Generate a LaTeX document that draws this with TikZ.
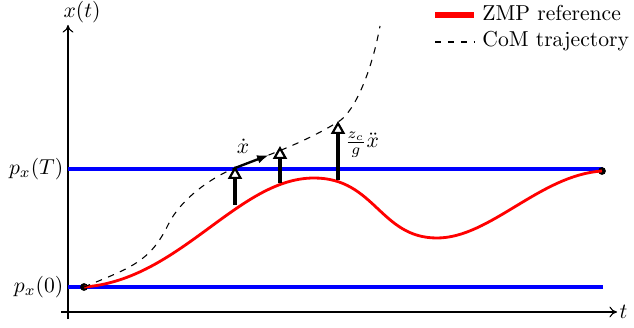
\documentclass[tikz,border=0pt]{standalone}
\usetikzlibrary{arrows.meta}
\begin{document}
\begin{tikzpicture}[x=0.01627cm,y=-0.01627cm,
  axis/.style={line width=0.5pt,-{To[length=3.5pt,width=5pt]}},
  refline/.style={blue,line width=1.4pt},
  zmp/.style={red,line width=1.3pt},
  com/.style={dashed,line width=0.5pt},
  acc/.style={line width=2.2pt,-{Triangle[open,fill=white,line width=1pt,length=6pt,width=6.5pt]}},
  vel/.style={line width=1.1pt,-{Latex[length=5.5pt,width=4pt]}},
  dotnode/.style={circle,fill=black,inner sep=0pt,minimum size=3.6pt}]
\useasboundingbox (0,0) rectangle (634,328);
% axes
\coordinate (ybot) at (68,319);
\coordinate (ytop) at (68,25);
\coordinate (xl) at (61,312);
\coordinate (xr) at (617,312);
\draw[axis] (ybot) -- (ytop);
\draw[axis] (xl) -- (xr);
\node (xt) at (82,12) {$x(t)$};
\node[anchor=west,inner sep=1pt] (tl) at (617,312) {$t$};
% reference levels
\coordinate (b0l) at (68,287);
\coordinate (b0r) at (603,287);
\coordinate (bTl) at (68,169);
\coordinate (bTr) at (603,169);
\draw[refline] (b0l) -- (b0r);
\draw[refline] (bTl) -- (bTr);
\node[anchor=east,inner sep=2pt] (p0) at (b0l) {$p_x(0)$};
\node[anchor=east,inner sep=2pt] (pT) at (bTl) {$p_x(T)$};
% dots
\node[dotnode] (s) at (84,287) {};
\node[dotnode] (e) at (602,171) {};
% ZMP reference
\coordinate (zpk) at (314,178);
\coordinate (zmn) at (437,238);
\draw[zmp] (s.center) .. controls (180,280) and (238,178) .. (zpk)
  .. controls (375,178) and (380,238) .. (zmn)
  .. controls (490,238) and (540,175) .. (e.center);
% CoM trajectory
\coordinate (c1) at (168,225);
\coordinate (c2) at (235,168);
\coordinate (c3) at (338,122);
\coordinate (c4) at (380,26);
\draw[com] (s.center) .. controls (130,268) and (150,262) .. (c1)
  .. controls (180,200) and (210,178) .. (c2)
  .. controls (265,156) and (300,145) .. (c3)
  .. controls (355,112) and (372,70) .. (c4);
% acceleration arrows
\coordinate (a1b) at (235,205);
\coordinate (a1t) at (235,166);
\coordinate (a2b) at (280,183);
\coordinate (a2t) at (280,146);
\coordinate (a3b) at (338,180);
\coordinate (a3t) at (338,121);
\draw[acc] (a1b) -- (a1t);
\draw[acc] (a2b) -- (a2t);
\draw[acc] (a3b) -- (a3t);
% velocity
\draw[vel] (c2) -- (269,155);
\node (vl) at (243,146) {$\dot x$};
\node (al) at (362,145) {$\frac{z_c}{g}\ddot x$};
% legend
\coordinate (l1a) at (435,15);
\coordinate (l1b) at (474,15);
\coordinate (l2a) at (435,42);
\coordinate (l2b) at (474,42);
\draw[red,line width=2.4pt] (l1a) -- (l1b);
\draw[com] (l2a) -- (l2b);
\node[anchor=base west,inner sep=0pt] (lt1) at (482,21) {ZMP reference};
\node[anchor=base west,inner sep=0pt] (lt2) at (482,47) {CoM trajectory};
\end{tikzpicture}
\end{document}
